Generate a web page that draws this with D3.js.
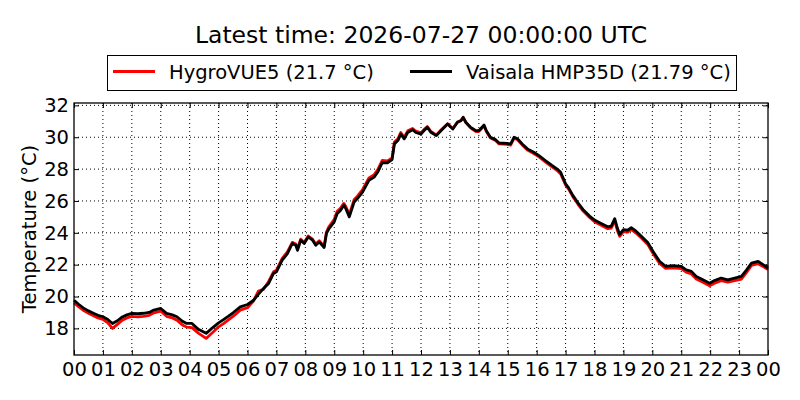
<!DOCTYPE html>
<html lang="en">
<head>
    <meta charset="UTF-8">
    <script src="https://d3js.org/d3.v7.min.js"></script>
    <style>
        body { margin: 0; background: #fff; font-family: "DejaVu Sans", sans-serif; }
        svg { display: block; }
        .grid line { stroke: #000; stroke-width: 1; stroke-dasharray: 1,3; }
    </style>
</head>
<body>
    <svg width="800" height="400"></svg>
    <script>
        // hours since 00 UTC
        const hours = [0,0.17,0.35,0.5,0.69,0.83,1.0,1.17,1.33,1.5,1.67,1.83,2.0,2.2,2.4,2.6,2.76,3.0,3.2,3.4,3.56,3.75,3.9,4.08,4.3,4.57,4.83,5.0,5.17,5.33,5.5,5.75,6.0,6.2,6.38,6.55,6.73,6.9,7.0,7.2,7.38,7.55,7.67,7.73,7.84,7.96,8.1,8.25,8.36,8.48,8.65,8.73,8.82,9.0,9.1,9.22,9.33,9.4,9.52,9.69,9.8,9.98,10.2,10.38,10.5,10.66,10.84,11.0,11.08,11.2,11.3,11.42,11.54,11.71,11.82,12.0,12.1,12.22,12.34,12.53,12.69,12.92,13.1,13.26,13.38,13.46,13.55,13.72,13.9,14.0,14.18,14.26,14.4,14.58,14.7,14.98,15.1,15.22,15.34,15.5,15.68,15.9,16.08,16.3,16.53,16.7,16.83,17.0,17.1,17.25,17.42,17.6,17.83,18.0,18.23,18.46,18.58,18.7,18.79,18.87,19.0,19.15,19.27,19.44,19.62,19.85,20.02,20.25,20.46,20.71,21.0,21.17,21.35,21.52,21.75,21.98,22.15,22.38,22.61,22.85,23.08,23.26,23.43,23.66,23.83,24.0];

        const hygroVUE5 = [19.6,19.35,19.1,18.95,18.78,18.66,18.57,18.35,18.0,18.25,18.52,18.66,18.75,18.72,18.76,18.82,18.98,19.08,18.76,18.66,18.52,18.22,18.08,18.05,17.7,17.37,17.8,18.1,18.3,18.52,18.75,19.15,19.3,19.7,20.35,20.45,20.95,21.55,21.65,22.4,22.8,23.4,23.3,23.0,23.6,23.4,23.8,23.6,23.3,23.5,23.15,24.05,24.4,24.85,25.35,25.55,25.85,25.65,25.15,26.1,26.3,26.72,27.45,27.65,27.95,28.55,28.52,28.7,29.7,29.9,30.3,30.0,30.4,30.55,30.38,30.27,30.48,30.68,30.36,30.15,30.45,30.85,30.55,30.95,31.05,31.25,30.92,30.58,30.36,30.36,30.72,30.36,29.95,29.8,29.58,29.55,29.5,29.95,29.84,29.52,29.2,28.98,28.77,28.46,28.14,27.93,27.7,27.0,26.76,26.27,25.82,25.38,24.96,24.7,24.48,24.26,24.3,24.75,24.15,23.78,24.08,24.05,24.2,23.98,23.67,23.25,22.72,22.08,21.77,21.8,21.76,21.53,21.42,21.1,20.9,20.68,20.84,21.0,20.9,21.0,21.1,21.52,21.95,22.06,21.88,21.7];

        const hmp35d = [19.77,19.5,19.25,19.1,18.94,18.82,18.73,18.56,18.31,18.48,18.72,18.85,18.94,18.92,18.95,19.0,19.15,19.25,18.94,18.85,18.73,18.45,18.31,18.31,17.94,17.69,18.1,18.35,18.55,18.75,18.98,19.35,19.5,19.75,20.15,20.5,20.82,21.45,21.55,22.28,22.7,23.33,23.22,22.9,23.54,23.33,23.74,23.54,23.22,23.43,23.08,23.96,24.27,24.69,25.2,25.42,25.73,25.52,25.0,25.94,26.15,26.56,27.3,27.5,27.8,28.4,28.4,28.6,29.58,29.79,30.2,29.9,30.3,30.47,30.3,30.2,30.41,30.62,30.31,30.1,30.41,30.83,30.52,30.94,31.04,31.25,30.94,30.62,30.41,30.41,30.77,30.41,30.0,29.85,29.64,29.62,29.58,30.0,29.9,29.58,29.27,29.06,28.85,28.54,28.23,28.02,27.8,27.08,26.84,26.35,25.9,25.47,25.05,24.8,24.59,24.38,24.42,24.89,24.3,23.9,24.2,24.17,24.32,24.1,23.79,23.37,22.84,22.21,21.9,21.94,21.9,21.68,21.58,21.26,21.05,20.84,21.0,21.16,21.05,21.16,21.26,21.68,22.1,22.21,22.0,21.79];

        const yTicks = [18, 20, 22, 24, 26, 28, 30, 32];
        const xTickLabels = ["00","01","02","03","04","05","06","07","08","09","10","11","12","13","14","15","16","17","18","19","20","21","22","23","00"];
        const seriesNames = ["HygroVUE5 (21.7 °C)", "Vaisala HMP35D (21.79 °C)"];
        const seriesColors = ["#ff0000", "#000000"];
        const title = "Latest time: 2026-07-27 00:00:00 UTC";

        let svg = d3.select("svg"),
            margin = { top: 103, right: 32, bottom: 45, left: 74 },
            width = +svg.attr("width") - margin.left - margin.right,
            height = +svg.attr("height") - margin.top - margin.bottom,
            g = svg.append("g").attr("transform", `translate(${margin.left},${margin.top})`);

        let x = d3.scaleLinear().domain([0, 24]).range([0, width]);
        let y = d3.scaleLinear().domain([16.33, 32.15]).range([height, 0]);

        // grid
        g.append("g").attr("class", "grid")
            .selectAll("line").data(d3.range(1, 24)).enter().append("line")
            .attr("x1", d => x(d)).attr("x2", d => x(d))
            .attr("y1", 0).attr("y2", height);
        g.append("g").attr("class", "grid")
            .selectAll("line").data(yTicks).enter().append("line")
            .attr("x1", 0).attr("x2", width)
            .attr("y1", d => y(d)).attr("y2", d => y(d));

        // lines
        let rows = hours.map((h, i) => ({ h, a: hygroVUE5[i], b: hmp35d[i] }));
        let lineA = d3.line().x(d => x(d.h)).y(d => y(d.a));
        let lineB = d3.line().x(d => x(d.h)).y(d => y(d.b));
        g.append("path").datum(rows).attr("d", lineA)
            .attr("fill", "none").attr("stroke", seriesColors[0]).attr("stroke-width", 2.8)
            .attr("stroke-linejoin", "round");
        g.append("path").datum(rows).attr("d", lineB)
            .attr("fill", "none").attr("stroke", seriesColors[1]).attr("stroke-width", 2.8)
            .attr("stroke-linejoin", "round");

        // axes, ticks pointing inward on all four sides
        let xTickVals = d3.range(0, 25);
        let bottomAx = g.append("g").attr("transform", `translate(0,${height})`)
            .call(d3.axisBottom(x).tickValues(xTickVals).tickSizeInner(-5).tickSizeOuter(0)
                .tickPadding(7).tickFormat((d, i) => xTickLabels[i]));
        let topAx = g.append("g")
            .call(d3.axisTop(x).tickValues(xTickVals).tickSizeInner(-5).tickSizeOuter(0).tickFormat(""));
        let leftAx = g.append("g")
            .call(d3.axisLeft(y).tickValues(yTicks).tickSizeInner(-5).tickSizeOuter(0)
                .tickPadding(5).tickFormat(d3.format("d")));
        let rightAx = g.append("g").attr("transform", `translate(${width},0)`)
            .call(d3.axisRight(y).tickValues(yTicks).tickSizeInner(-5).tickSizeOuter(0).tickFormat(""));
        [bottomAx, topAx, leftAx, rightAx].forEach(a => {
            a.select(".domain").remove();
            a.selectAll("line").attr("stroke", "#000");
            a.selectAll("text").attr("font-family", "DejaVu Sans").attr("font-size", "19.5px").attr("fill", "#000");
        });

        g.append("rect").attr("width", width).attr("height", height)
            .attr("fill", "none").attr("stroke", "#000").attr("stroke-width", 1.3);

        // y label
        svg.append("text")
            .attr("transform", `translate(36,${margin.top + height / 2}) rotate(-90)`)
            .attr("text-anchor", "middle")
            .attr("font-size", "19.5px").attr("font-family", "DejaVu Sans")
            .text("Temperature (°C)");

        // title
        svg.append("text")
            .attr("x", 421).attr("y", 43)
            .attr("text-anchor", "middle")
            .attr("font-size", "23.5px").attr("font-family", "DejaVu Sans")
            .text(title);

        // legend
        let lg = svg.append("g");
        lg.append("rect").attr("x", 107.5).attr("y", 55.5).attr("width", 629).attr("height", 35)
            .attr("fill", "#fff").attr("stroke", "#000").attr("stroke-width", 1);
        let legendX = [113, 410];
        seriesNames.forEach((name, i) => {
            lg.append("line").attr("x1", legendX[i]).attr("x2", legendX[i] + 42)
                .attr("y1", 71.5).attr("y2", 71.5)
                .attr("stroke", seriesColors[i]).attr("stroke-width", 2.8);
            lg.append("text").attr("x", legendX[i] + 56).attr("y", 79)
                .attr("font-size", "19.5px").attr("font-family", "DejaVu Sans")
                .text(name);
        });
    </script>
</body>
</html>
